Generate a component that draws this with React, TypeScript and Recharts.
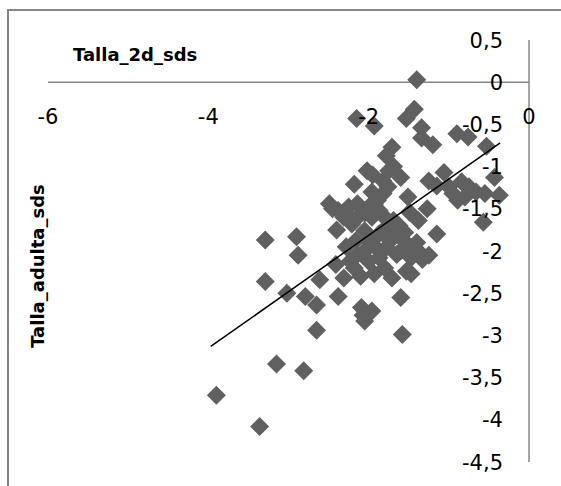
import React from 'react';
import { ScatterChart, Scatter, XAxis, YAxis, ReferenceLine } from 'recharts';

// Talla_2d_sds (x) vs Talla_adulta_sds (y)
const talla2d = [
  -1.40, -1.43, -1.53, -2.15, -1.93, -1.34, -1.34, -1.20, -0.90, -0.76,
  -0.53, -1.71, -1.78, -2.02, -1.06, -2.18, -1.69, -1.60, -1.25, -1.15,
  -0.84, -0.75, -0.43, -0.37, -0.55, -0.66, -0.95, -0.89, -1.51, -1.49,
  -1.27, -0.57, -1.15, -2.49, -2.38, -2.25, -2.14, -2.00, -1.89, -1.82,
  -1.76, -1.87, -1.96, -2.14, -2.31, -2.40, -2.21, -2.05, -2.16, -2.00,
  -1.87, -1.78, -1.69, -1.65, -1.73, -1.56, -1.47, -1.36, -1.33, -1.47,
  -1.65, -1.78, -1.91, -2.14, -2.23, -2.18, -2.00, -1.87, -2.41, -2.31,
  -2.10, -1.93, -1.71, -1.53, -1.47, -2.38, -2.61, -1.60, -2.09, -1.96,
  -2.05, -1.58, -2.65, -2.65, -2.79, -3.02, -3.29, -2.90, -2.88, -3.29,
  -3.15, -2.81, -3.90, -3.36, -1.82, -1.96, -1.38, -1.00, -0.80, -2.07,
  -2.45, -2.28, -2.05, -1.93, -1.80, -1.62, -1.55, -1.60, -1.40, -1.95,
  -1.75, -1.25, -2.28, -2.05, -1.80,
];
const tallaAdulta = [
  0.03, -0.32, -0.43, -0.43, -0.52, -0.54, -0.66, -0.74, -0.61, -0.65,
  -0.76, -0.77, -0.87, -1.05, -1.07, -1.21, -1.00, -1.13, -1.17, -1.23,
  -1.18, -1.24, -1.13, -1.34, -1.32, -1.30, -1.32, -1.40, -1.36, -1.54,
  -1.50, -1.66, -1.80, -1.44, -1.52, -1.48, -1.44, -1.48, -1.40, -1.32,
  -1.24, -1.52, -1.60, -1.60, -1.60, -1.75, -1.68, -1.76, -1.88, -1.88,
  -1.80, -1.72, -1.64, -1.80, -1.88, -1.88, -1.96, -2.02, -2.10, -2.08,
  -2.04, -1.96, -1.96, -2.04, -2.12, -2.20, -2.12, -2.08, -2.16, -2.32,
  -2.30, -2.27, -2.32, -2.24, -2.27, -2.54, -2.34, -2.55, -2.67, -2.71,
  -2.83, -2.99, -2.64, -2.94, -2.54, -2.50, -1.87, -1.83, -2.05, -2.36,
  -3.34, -3.42, -3.71, -4.08, -1.17, -1.30, -1.64, -1.24, -1.36, -2.76,
  -1.50, -1.56, -1.55, -1.45, -1.60, -1.70, -1.78, -2.00, -1.90, -1.10,
  -1.05, -2.05, -1.95, -2.00, -2.20,
];

// linear trend endpoints
const trendX = [-3.97, -0.36];
const trendY = [-3.13, -0.72];

const xTicks = [-6, -4, -2, 0];
const yTicks = [0.5, 0, -0.5, -1, -1.5, -2, -2.5, -3, -3.5, -4, -4.5];

const W = 561;
const H = 486;
const PLOT_LEFT = 48;
const PLOT_RIGHT = 529;
const PLOT_TOP = 40;
const PLOT_BOTTOM = 462;
const X_AXIS_H = 20;
const Y_AXIS_W = 30;
const Y_MAX = yTicks[0];
const Y_MIN = yTicks[yTicks.length - 1];
const Y_ZERO = PLOT_TOP + ((PLOT_BOTTOM - PLOT_TOP) * Y_MAX) / (Y_MAX - Y_MIN);

const FONT = '"DejaVu Sans", sans-serif';
const AXIS_GREY = '#868686';

const points = talla2d.map((x, i) => ({ x, y: tallaAdulta[i] }));
const trend = trendX.map((x, i) => ({ x, y: trendY[i] }));

const fmt = (v: number) => String(v).replace('.', ',');

const Diamond = (props: any) => {
  const { cx, cy } = props;
  const r = 9.5;
  return (
    <polygon
      points={`${cx},${cy - r} ${cx + r},${cy} ${cx},${cy + r} ${cx - r},${cy}`}
      fill="#606060"
    />
  );
};

// x labels sit just under the zero line, not at the plot edge
const XTick = (props: any) => {
  const { x, payload } = props;
  return (
    <text x={x} y={Y_ZERO + 42} textAnchor="middle" fontSize={21} fontFamily={FONT} fill="#000">
      {fmt(payload.value)}
    </text>
  );
};

const YTick = (props: any) => {
  const { y, payload } = props;
  return (
    <text x={PLOT_RIGHT - 26} y={y + 7.5} textAnchor="end" fontSize={21} fontFamily={FONT} fill="#000">
      {fmt(payload.value)}
    </text>
  );
};

export default function App() {
  return (
    <div
      style={{
        position: 'absolute',
        left: 0,
        top: 0,
        width: W,
        height: H,
        overflow: 'hidden',
        background: '#fff',
        fontFamily: FONT,
      }}
    >
      <div
        style={{
          position: 'absolute',
          left: 7,
          top: 9,
          width: W - 9,
          height: H - 11,
          borderLeft: `2px solid ${AXIS_GREY}`,
          borderTop: `2px solid ${AXIS_GREY}`,
        }}
      />
      <ScatterChart
        width={W}
        height={H}
        margin={{
          top: PLOT_TOP - X_AXIS_H,
          right: W - PLOT_RIGHT - Y_AXIS_W,
          bottom: H - PLOT_BOTTOM,
          left: PLOT_LEFT,
        }}
        style={{ position: 'absolute', left: 0, top: 0 }}
      >
        <XAxis
          type="number"
          dataKey="x"
          orientation="top"
          height={X_AXIS_H}
          domain={[xTicks[0], xTicks[xTicks.length - 1]]}
          ticks={xTicks}
          axisLine={false}
          tickLine={false}
          tick={<XTick />}
          interval={0}
        />
        <YAxis
          type="number"
          dataKey="y"
          orientation="right"
          width={Y_AXIS_W}
          domain={[Y_MIN, Y_MAX]}
          ticks={yTicks}
          axisLine={{ stroke: AXIS_GREY, strokeWidth: 1.5 }}
          tickLine={false}
          tick={<YTick />}
          interval={0}
        />
        <ReferenceLine y={0} stroke={AXIS_GREY} strokeWidth={1.5} />
        <Scatter data={points} shape={Diamond} isAnimationActive={false} />
        <Scatter
          data={trend}
          line={{ stroke: '#000', strokeWidth: 1.5 }}
          shape={() => <g />}
          isAnimationActive={false}
        />
      </ScatterChart>
      <div
        style={{
          position: 'absolute',
          left: 73,
          top: 46,
          fontSize: 18,
          lineHeight: '18px',
          fontWeight: 'bold',
          whiteSpace: 'nowrap',
        }}
      >
        Talla_2d_sds
      </div>
      <div
        style={{
          position: 'absolute',
          left: 38,
          top: 266,
          fontSize: 18,
          lineHeight: '18px',
          fontWeight: 'bold',
          whiteSpace: 'nowrap',
          transform: 'translate(-50%, -50%) rotate(-90deg)',
        }}
      >
        Talla_adulta_sds
      </div>
    </div>
  );
}
